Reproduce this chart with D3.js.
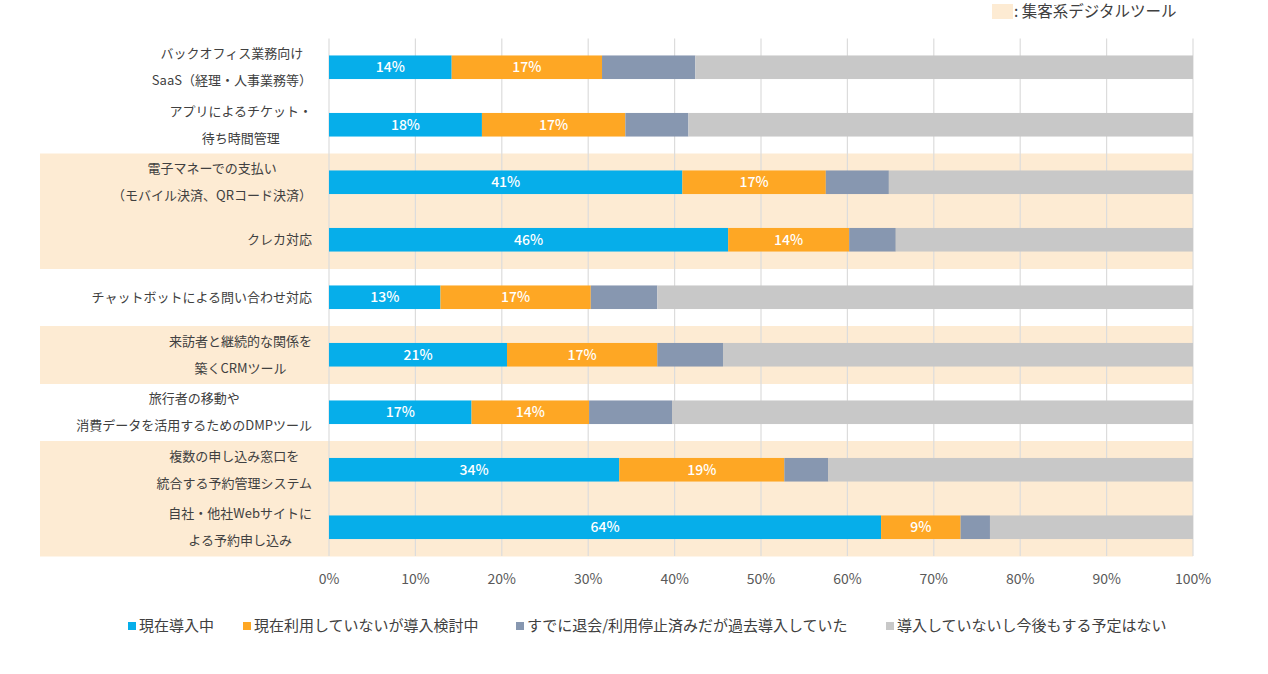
<!DOCTYPE html>
<html>
<head>
<meta charset="utf-8">
<script src="https://cdn.jsdelivr.net/npm/d3@7"></script>
<style>
  body { margin: 0; background: #fff; }
  text { font-family: "Noto Sans CJK JP", "Noto Sans", sans-serif; }
</style>
</head>
<body>
<script>
// categories (each entry = lines of the label)
const categories = [
  ["バックオフィス業務向け", "SaaS（経理・人事業務等）"],
  ["アプリによるチケット・", "待ち時間管理"],
  ["電子マネーでの支払い", "（モバイル決済、QRコード決済）"],
  ["クレカ対応"],
  ["チャットボットによる問い合わせ対応"],
  ["来訪者と継続的な関係を", "築くCRMツール"],
  ["旅行者の移動や", "消費データを活用するためのDMPツール"],
  ["複数の申し込み窓口を", "統合する予約管理システム"],
  ["自社・他社Webサイトに", "よる予約申し込み"]
];
// rows flagged as 集客系デジタルツール
const highlighted = [false, false, true, true, false, true, false, true, true];

const seriesNames = ["現在導入中", "現在利用していないが導入検討中", "すでに退会/利用停止済みだが過去導入していた", "導入していないし今後もする予定はない"];
const inUse     = [14.2, 17.7, 40.9, 46.2, 12.9, 20.6, 16.5, 33.6, 63.9];
const considering = [17.4, 16.6, 16.6, 14.0, 17.4, 17.4, 13.6, 19.1, 9.2];
const pastUse   = [10.8, 7.3, 7.3, 5.4, 7.7, 7.6, 9.6, 5.1, 3.4];
const noPlan    = [57.6, 58.4, 35.2, 34.4, 62.0, 54.4, 60.3, 42.2, 23.5];
const tickValues = [0, 10, 20, 30, 40, 50, 60, 70, 80, 90, 100];

const colors = ["#06aeea", "#fea724", "#8797b0", "#c8c8c8"];
const bandColor = "#fdebd3";

const W = 1268, H = 674;
const plotL = 329, plotR = 1193, plotT = 38.5, plotB = 556;

const svg = d3.select("body").append("svg")
  .attr("width", W)
  .attr("height", H);

const x = d3.scaleLinear().domain([0, 100]).range([plotL, plotR]);
const y = d3.scaleBand().domain(d3.range(categories.length)).range([plotT, plotB]);
const barH = y.bandwidth() * 0.41;

// highlight bands
svg.append("g").selectAll("rect")
  .data(d3.range(categories.length).filter(i => highlighted[i]))
  .join("rect")
    .attr("x", 40)
    .attr("y", i => y(i))
    .attr("width", plotR - 40)
    .attr("height", y.bandwidth() + 0.5)
    .attr("fill", bandColor);

// gridlines
svg.append("g").selectAll("line")
  .data(tickValues)
  .join("line")
    .attr("x1", d => x(d)).attr("x2", d => x(d))
    .attr("y1", plotT).attr("y2", plotB)
    .attr("stroke", "#dcdcdc")
    .attr("stroke-width", 1.2);

// stacked bars
const series = [inUse, considering, pastUse, noPlan];
const rows = d3.range(categories.length).map(i => {
  let acc = 0;
  return series.map((s, k) => {
    const seg = { row: i, k: k, x0: acc, x1: acc + s[i], v: s[i] };
    acc += s[i];
    return seg;
  });
});
const segs = rows.flat();

svg.append("g").selectAll("rect")
  .data(segs)
  .join("rect")
    .attr("x", d => x(d.x0))
    .attr("y", d => y(d.row) + (y.bandwidth() - barH) / 2)
    .attr("width", d => Math.min(x(d.x1), plotR) - x(d.x0))
    .attr("height", barH)
    .attr("fill", d => colors[d.k]);

// value labels (only first two series)
svg.append("g").selectAll("text")
  .data(segs.filter(d => d.k < 2))
  .join("text")
    .attr("x", d => x((d.x0 + d.x1) / 2))
    .attr("y", d => y(d.row) + y.bandwidth() / 2)
    .attr("dy", "0.35em")
    .attr("text-anchor", "middle")
    .attr("fill", "#fff")
    .attr("font-size", 14)
    .attr("font-weight", 500)
    .text(d => Math.round(d.v) + "%");

// category labels: block right-aligned, lines centered in the block
const labelRight = 312;
categories.forEach((lines, i) => {
  const g = svg.append("g");
  const cy = y(i) + y.bandwidth() / 2;
  const lh = 27;
  const ts = lines.map((t, j) => g.append("text")
    .attr("y", cy + (j - (lines.length - 1) / 2) * lh)
    .attr("dy", "0.35em")
    .attr("font-size", 13)
    .attr("fill", "#404040")
    .attr("text-anchor", "middle")
    .text(t));
  const maxW = d3.max(ts, t => t.node().getComputedTextLength());
  ts.forEach(t => t.attr("x", labelRight - maxW / 2));
});

// x axis tick labels
svg.append("g").selectAll("text")
  .data(tickValues)
  .join("text")
    .attr("x", d => x(d))
    .attr("y", 579)
    .attr("dy", "0.35em")
    .attr("text-anchor", "middle")
    .attr("font-size", 14)
    .attr("fill", "#595959")
    .text(d => d + "%");

// bottom legend
const legendX = [128, 243, 516, 886];
const legend = svg.append("g").selectAll("g")
  .data(seriesNames)
  .join("g")
    .attr("transform", (d, i) => `translate(${legendX[i]},626)`);
legend.append("rect")
  .attr("x", 0).attr("y", -4)
  .attr("width", 8).attr("height", 8)
  .attr("fill", (d, i) => colors[i]);
legend.append("text")
  .attr("x", 11)
  .attr("dy", "0.35em")
  .attr("font-size", 15)
  .attr("fill", "#404040")
  .text(d => d);

// top right legend
svg.append("rect")
  .attr("x", 992).attr("y", 4)
  .attr("width", 21).attr("height", 15)
  .attr("fill", bandColor);
svg.append("text")
  .attr("x", 1014).attr("y", 12)
  .attr("dy", "0.35em")
  .attr("font-size", 15.5)
  .attr("fill", "#404040")
  .text(": 集客系デジタルツール");
</script>
</body>
</html>
